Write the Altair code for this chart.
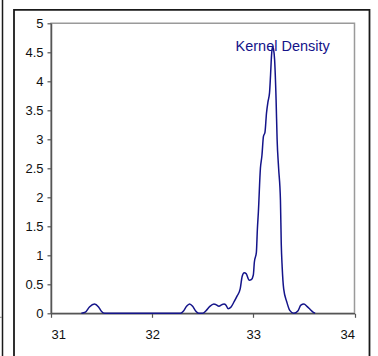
import altair as alt
import pandas as pd

# Kernel density estimate, sampled along the x axis
density_x = [
    31.30, 31.34, 31.38, 31.43, 31.47, 31.50, 31.53,
    32.28, 32.31, 32.34, 32.37, 32.40, 32.43, 32.46, 32.50,
    32.53, 32.57, 32.61, 32.63, 32.66, 32.69, 32.71, 32.73, 32.75,
    32.78, 32.81, 32.84, 32.87, 32.89, 32.91, 32.93, 32.96, 32.98,
    33.00, 33.01, 33.03, 33.04, 33.05, 33.07, 33.085, 33.10, 33.115,
    33.13, 33.145, 33.16, 33.17, 33.18, 33.19, 33.20, 33.21, 33.225,
    33.235, 33.25, 33.268, 33.276, 33.285, 33.30, 33.33, 33.36, 33.40,
    33.44, 33.47, 33.50, 33.53, 33.56, 33.59, 33.61,
]
density_y = [
    0.00, 0.02, 0.11, 0.16, 0.11, 0.03, 0.00,
    0.00, 0.04, 0.12, 0.16, 0.12, 0.04, 0.00, 0.00,
    0.04, 0.12, 0.16, 0.15, 0.12, 0.15, 0.16, 0.14, 0.08,
    0.11, 0.20, 0.30, 0.42, 0.64, 0.70, 0.68, 0.57, 0.58,
    0.66, 0.88, 1.05, 1.45, 1.75, 2.50, 2.72, 3.05, 3.12,
    3.45, 3.65, 3.80, 4.10, 4.45, 4.60, 4.55, 4.38, 3.68,
    3.00, 2.50, 1.95, 1.20, 0.80, 0.42, 0.20, 0.05, 0.00,
    0.04, 0.14, 0.16, 0.12, 0.07, 0.02, 0.00,
]

x_ticks = [31, 32, 33, 34]
y_ticks = [0, 0.5, 1, 1.5, 2, 2.5, 3, 3.5, 4, 4.5, 5]

series_label = "Kernel Density"
label_x = 33.29
label_y = 4.53

navy = "#14148a"
axis_grey = "#555555"

df = pd.DataFrame({"x": density_x, "y": density_y})
label_df = pd.DataFrame({"x": [label_x], "y": [label_y], "text": [series_label]})
one = pd.DataFrame({"k": [0]})

axis_style = dict(
    title=None,
    grid=False,
    labelOverlap=False,
    domainColor=axis_grey,
    domainWidth=1.5,
    tickColor=axis_grey,
    tickWidth=1.2,
    tickSize=4,
    labelFont="Liberation Sans",
    labelFontSize=13,
    labelColor="#111111",
)

x_scale = alt.Scale(domain=[31, 34], nice=False, zero=False)
y_scale = alt.Scale(domain=[0, 5], nice=False)

# both data layers share identical encodings so their axes merge cleanly
x_enc = alt.X(
    "x:Q", scale=x_scale,
    axis=alt.Axis(values=x_ticks, format="d", labelPadding=11, **axis_style),
)
y_enc = alt.Y(
    "y:Q", scale=y_scale,
    axis=alt.Axis(values=y_ticks, format="~g", labelPadding=4, **axis_style),
)

line = alt.Chart(df).mark_line(
    color=navy, strokeWidth=1.5, interpolate="monotone"
).encode(x=x_enc, y=y_enc)

label = alt.Chart(label_df).mark_text(
    color=navy, font="Liberation Sans", fontSize=14.5,
    align="center", baseline="alphabetic",
).encode(x=x_enc, y=y_enc, text="text:N")

# outer chart border box
frame = alt.Chart(one).mark_rect(
    fill="transparent", stroke="#1a1a1a", strokeWidth=1.8
).encode(
    x=alt.value(-37), x2=alt.value(318.5),
    y=alt.value(-13.5), y2=alt.value(345),
)

# edge of the neighbouring panel on the left
edge = alt.Chart(one).mark_rule(color="#1a1a1a", strokeWidth=1.5).encode(
    x=alt.value(-48.5), y=alt.value(-24), y2=alt.value(334),
)
edge_tick = alt.Chart(one).mark_rule(color="#888888", strokeWidth=1).encode(
    x=alt.value(-51), x2=alt.value(-49), y=alt.value(294),
)

chart = alt.layer(line, label, frame, edge, edge_tick).properties(
    width=303.5,
    height=290,
    background="white",
    autosize=alt.AutoSizeParams(type="none"),
    padding={"left": 51, "top": 23.3, "right": 23.5, "bottom": 43},
).configure_view(
    stroke="#9a9a9a", strokeWidth=1.5
)

chart.save("out.html", embed_options={"renderer": "svg", "actions": False})
